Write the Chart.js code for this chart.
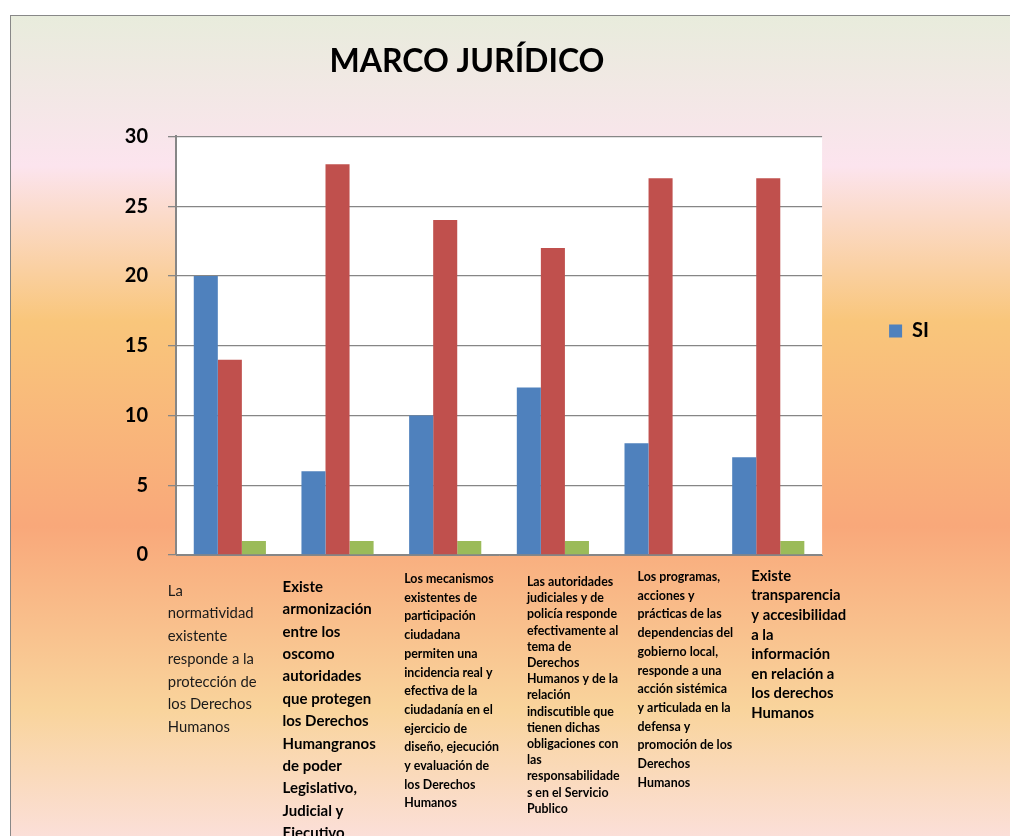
<!DOCTYPE html>
<html lang="es">
<head>
    <meta charset="UTF-8">
    <title>Marco Jurídico</title>
    <script src="https://cdn.jsdelivr.net/npm/chart.js"></script>
    <style>
        body { margin: 0; background: #ffffff; overflow: hidden; }
        .frame {
            position: absolute; left: 10px; top: 15px; width: 999px; height: 820px;
            border-left: 1px solid #888; border-top: 1px solid #888;
            background: linear-gradient(to bottom,
                #e8ecdc 0px, #fce4ee 150px, #f9c67b 305px, #f9a87a 510px,
                #f9d49c 694px, #fbdfd8 820px);
        }
        canvas { display: block; }
    </style>
</head>
<body>
    <div class="frame">
        <canvas id="chart" width="999" height="820"></canvas>
    </div>

    <script>
        const categories = [
            ['La', 'normatividad', 'existente', 'responde a la', 'protección de', 'los Derechos', 'Humanos'],
            ['Existe', 'armonización', 'entre los', 'oscomo', 'autoridades', 'que protegen', 'los Derechos',
             'Humangranos', 'de poder', 'Legislativo,', 'Judicial y', 'Ejecutivo'],
            ['Los mecanismos', 'existentes de', 'participación', 'ciudadana', 'permiten una', 'incidencia real y',
             'efectiva de la', 'ciudadanía en el', 'ejercicio de', 'diseño, ejecución', 'y evaluación de',
             'los Derechos', 'Humanos'],
            ['Las autoridades', 'judiciales y de', 'policía responde', 'efectivamente al', 'tema de', 'Derechos',
             'Humanos y de la', 'relación', 'indiscutible que', 'tienen dichas', 'obligaciones con', 'las',
             'responsabilidade', 's en el Servicio', 'Publico'],
            ['Los programas,', 'acciones y', 'prácticas de las', 'dependencias del', 'gobierno local,',
             'responde a una', 'acción sistémica', 'y articulada en la', 'defensa y', 'promoción de los',
             'Derechos', 'Humanos'],
            ['Existe', 'transparencia', 'y accesibilidad', 'a la', 'información', 'en relación a',
             'los derechos', 'Humanos']
        ];
        const seriesNames = ['SI', 'NO', 'NO SABE'];
        const siValues = [20, 6, 10, 12, 8, 7];
        const noValues = [14, 28, 24, 22, 27, 27];
        const nsValues = [1, 1, 1, 1, 0, 1];
        const yTicks = [0, 5, 10, 15, 20, 25, 30];

        // per-category label styling (Excel left each text box a bit different)
        const labelStyle = [
            { shift: -62, top: 36, gap: 22.7, font: '14.8px Lato', color: '#1a1a1a' },
            { shift: -55, top: 32, gap: 22.4, font: 'bold 15px Lato', color: '#000' },
            { shift: -41, top: 24, gap: 18.7, font: 'bold 12.4px Lato', color: '#000' },
            { shift: -26, top: 27, gap: 16.2, font: 'bold 12.4px Lato', color: '#000' },
            { shift: -23, top: 22, gap: 18.7, font: 'bold 12.4px Lato', color: '#000' },
            { shift: -17, top: 21, gap: 19.6, font: 'bold 14.8px Lato', color: '#000' }
        ];

        const plotBackground = {
            id: 'plotBackground',
            beforeDraw(chart) {
                const { ctx, chartArea: a } = chart;
                ctx.save();
                ctx.fillStyle = '#ffffff';
                ctx.fillRect(a.left, a.top, a.right - a.left, a.bottom - a.top);
                ctx.restore();
            }
        };

        const categoryText = {
            id: 'categoryText',
            afterDraw(chart) {
                const { ctx, chartArea } = chart;
                const x = chart.scales.x;
                ctx.save();
                ctx.textAlign = 'left';
                ctx.textBaseline = 'middle';
                categories.forEach((lines, i) => {
                    const s = labelStyle[i];
                    const left = x.getPixelForValue(i) + s.shift;
                    ctx.font = s.font;
                    ctx.fillStyle = s.color;
                    lines.forEach((line, j) => {
                        ctx.fillText(line, left, chartArea.bottom + s.top + j * s.gap);
                    });
                });
                ctx.restore();
            }
        };

        const ctx = document.getElementById('chart').getContext('2d');
        new Chart(ctx, {
            type: 'bar',
            data: {
                labels: categories,
                datasets: [
                    { label: seriesNames[0], data: siValues, backgroundColor: '#4f81bd' },
                    { label: seriesNames[1], data: noValues, backgroundColor: '#c0504d' },
                    { label: seriesNames[2], data: nsValues, backgroundColor: '#9bbb59' }
                ]
            },
            options: {
                responsive: false,
                animation: false,
                layout: { padding: { top: 0, left: -16, right: 71, bottom: 190 } },
                datasets: { bar: { categoryPercentage: 0.67, barPercentage: 1.0, borderWidth: 0 } },
                plugins: {
                    title: {
                        display: true,
                        text: 'MARCO JURÍDICO',
                        color: '#000',
                        font: { family: 'Lato', size: 32, weight: 'bold' },
                        padding: { top: 26, bottom: 56 }
                    },
                    legend: {
                        position: 'right',
                        labels: {
                            filter: item => item.datasetIndex === 0,
                            boxWidth: 13,
                            boxHeight: 13,
                            padding: 67,
                            color: '#000',
                            font: { family: 'Lato', size: 20, weight: 'bold' }
                        }
                    },
                    tooltip: { enabled: false }
                },
                scales: {
                    x: {
                        grid: { display: false },
                        border: { display: true, color: '#868686', width: 1 },
                        ticks: { display: false },
                        afterFit: scale => { scale.height = 91; }
                    },
                    y: {
                        min: yTicks[0],
                        max: yTicks[yTicks.length - 1],
                        afterBuildTicks: scale => { scale.ticks = yTicks.map(v => ({ value: v })); },
                        grid: { color: '#868686', lineWidth: 1.3, tickLength: 8 },
                        border: { display: true, color: '#868686', width: 2 },
                        ticks: {
                            padding: 20,
                            color: '#000',
                            font: { family: 'Lato', size: 20, weight: 'bold' }
                        },
                        afterFit: scale => { scale.width = 181; }
                    }
                }
            },
            plugins: [plotBackground, categoryText]
        });
    </script>
</body>
</html>
